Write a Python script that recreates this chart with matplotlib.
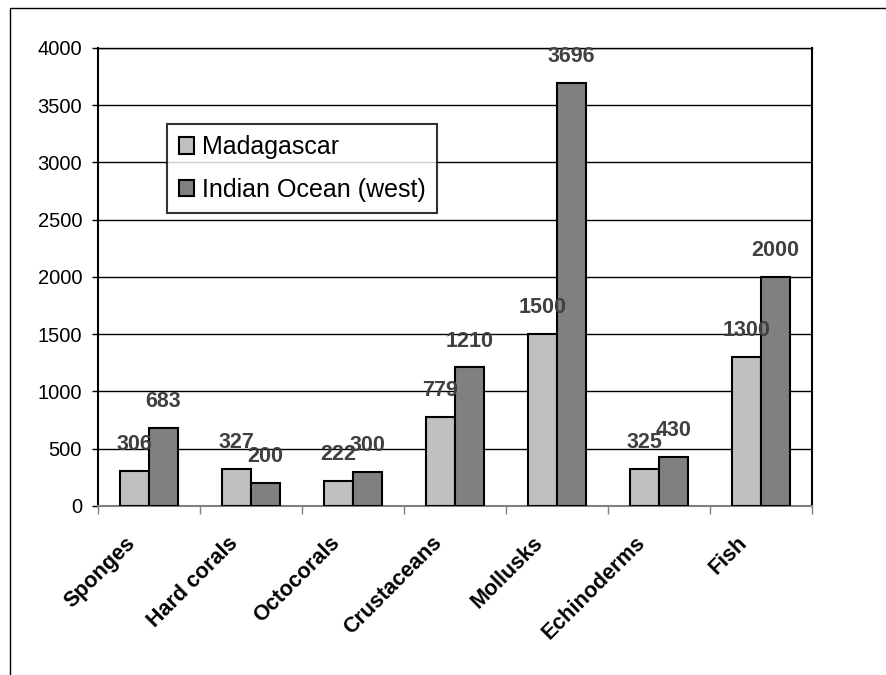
import numpy as np
import matplotlib.pyplot as plt
from matplotlib.patches import Rectangle
from matplotlib.transforms import ScaledTranslation

plt.rcParams['font.family'] = ['Liberation Sans', 'DejaVu Sans']

categories = ['Sponges', 'Hard corals', 'Octocorals', 'Crustaceans', 'Mollusks', 'Echinoderms', 'Fish']
madagascar = [306, 327, 222, 779, 1500, 325, 1300]
indian_ocean = [683, 200, 300, 1210, 3696, 430, 2000]

fig = plt.figure(figsize=(8.87, 6.75), dpi=100)
ax = fig.add_axes([0.1105, 0.2504, 0.805, 0.6785])

# cropped outer chart border
fig.patches.append(Rectangle((10/887, -0.1), 1.2, 1 - 8/675 + 0.1, transform=fig.transFigure,
                             fill=False, edgecolor='black', linewidth=1.0))

x = np.arange(len(categories))
w = 0.285
b1 = ax.bar(x - w/2, madagascar, w, color='#C0C0C0', edgecolor='black', linewidth=1.5,
            label='Madagascar', zorder=3)
b2 = ax.bar(x + w/2, indian_ocean, w, color='#808080', edgecolor='black', linewidth=1.5,
            label='Indian Ocean (west)', zorder=3)

for bars, vals in ((b1, madagascar), (b2, indian_ocean)):
    for r, v in zip(bars, vals):
        ax.annotate(str(v), (r.get_x() + r.get_width()/2, v), xytext=(0, 19),
                    textcoords='offset points', ha='center', va='center',
                    fontsize=15.5, fontweight='bold', color='#404040', zorder=4)

ax.set_xlim(-0.5, len(categories) - 0.5)
ax.set_ylim(0, 4000)
ax.set_yticks(np.arange(0, 4001, 500))
ax.yaxis.grid(True, color='black', linewidth=1.0, zorder=0)
ax.tick_params(axis='y', labelsize=14.5, length=4.5, width=1, direction='out', pad=7)

ax.set_xticks(x)
ax.set_xticklabels(categories, rotation=45, ha='right', va='top', rotation_mode='anchor',
                   fontsize=15.5, fontweight='bold')
ax.tick_params(axis='x', which='major', length=0, pad=14)
shift = ScaledTranslation(-0.24, -0.07, fig.dpi_scale_trans)
for lab in ax.get_xticklabels():
    lab.set_transform(lab.get_transform() + shift)
ax.set_xticks(np.arange(-0.5, len(categories)), minor=True)
ax.tick_params(axis='x', which='minor', length=6, width=1, color='#808080', direction='out')

for s in ['left', 'right']:
    ax.spines[s].set_linewidth(1.5)
ax.spines['top'].set_linewidth(1.0)
ax.spines['bottom'].set_color('#808080')
ax.spines['bottom'].set_linewidth(1.5)

leg = ax.legend(loc='upper left', bbox_to_anchor=(0.097, 0.834), borderaxespad=0,
                fontsize=18, frameon=True, fancybox=False, edgecolor='black',
                handlelength=0.62, handleheight=0.62, handletextpad=0.3, labelspacing=0.75,
                borderpad=0.45)
leg.get_frame().set_linewidth(1.5)

fig.savefig('out.png', dpi=100)
